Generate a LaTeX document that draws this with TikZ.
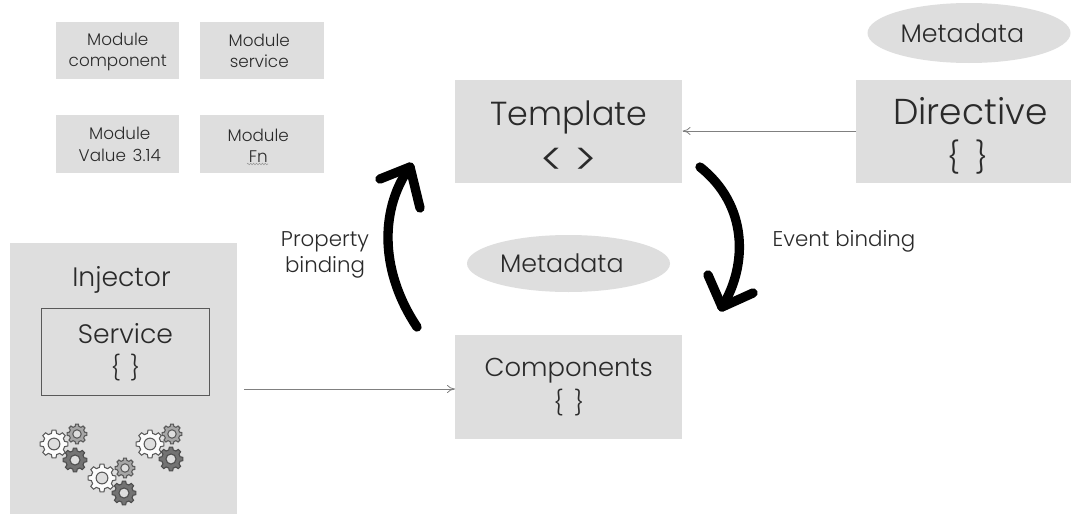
\documentclass[tikz,border=0pt]{standalone}
\usepackage{fontspec}
\setmainfont{Poppins Light}
\usetikzlibrary{arrows.meta,decorations.pathmorphing,calc,shapes.geometric}
\definecolor{boxgray}{HTML}{DEDEDE}
\definecolor{inkgray}{HTML}{2A2A2A}
\newcommand{\fs}[2]{\fontsize{#1}{#2}\selectfont}
\newcommand{\lift}[1]{\rule{0pt}{#1}}
\tikzset{
  x=0.75pt,y=-0.75pt,
  graybox/.style={fill=boxgray,draw=none,inner sep=0pt,align=center,text=inkgray,anchor=north west},
  grayoval/.style={fill=boxgray,draw=none,ellipse,inner sep=0pt,text=inkgray},
  label/.style={text=inkgray,align=center,inner sep=0pt},
  thinarrow/.style={draw=black!50,line width=0.6pt,-{To[length=6pt,width=6pt]}},
  bigcurve/.style={line width=7pt,line cap=round,line join=round,draw=black},
  gearlight/.style={fill=white!90!boxgray,draw=black!65,line width=0.8pt},
  gearmid/.style={fill=black!35,draw=black!65,line width=0.8pt},
  geardark/.style={fill=black!55,draw=black!70,line width=0.8pt},
}
\newcommand{\gear}[5]{% cx, cy, r outer, style, hole fill
  \draw[#4] (#1,#2) ++(-14:#3*0.78*0.75pt)
    \foreach \a in {0,45,...,315} {
      -- ($(#1,#2)+(\a-14:#3*0.78*0.75pt)$)
      -- ($(#1,#2)+(\a-8:#3*0.75pt)$)
      -- ($(#1,#2)+(\a+8:#3*0.75pt)$)
      -- ($(#1,#2)+(\a+14:#3*0.78*0.75pt)$)
    } -- cycle;
  \draw[#4,fill=#5] (#1,#2) circle[radius=#3*0.42*0.75pt];
}
\begin{document}
\begin{tikzpicture}
\useasboundingbox (0,0) rectangle (1071,514);
\fill[white] (0,0) rectangle (1071,514);

% module boxes
\node[graybox,minimum width=92.25pt,minimum height=42.75pt,font=\fs{12.6}{16}] (mc) at (56,22) {\lift{11pt}Module\\component};
\node[graybox,minimum width=93pt,minimum height=42.75pt,font=\fs{12.6}{16}] (ms) at (200,22) {Module\hspace*{4.5pt}\\service\hspace*{4.5pt}};
\node[graybox,minimum width=92.25pt,minimum height=43.5pt,font=\fs{12.6}{16}] (mv) at (56,115) {\hspace*{3pt}Module\\\hspace*{3pt}Value\hspace*{5pt}3.14};
\node[graybox,minimum width=93pt,minimum height=43.5pt,font=\fs{12.6}{16}] (mf) at (200,115) {\lift{11.5pt}Module\hspace*{6pt}\\Fn\hspace*{6pt}};
\coordinate (wa) at (247,164);
\coordinate (wb) at (268,164);
\draw[black!40,line width=0.4pt,decorate,decoration={zigzag,amplitude=0.6pt,segment length=2.2pt}] (wa) -- (wb);

% main boxes
\node[graybox,minimum width=170.25pt,minimum height=77.25pt,font=\fs{25}{34}] (tpl) at (455,80) {\lift{27.5pt}Template\\\raisebox{-3.5pt}{\fs{34}{34}<\hspace*{8pt}>}};
\node[graybox,minimum width=161.25pt,minimum height=77.25pt,font=\fs{27}{33}] (dir) at (856,80) {\hspace*{10pt}\lift{27pt}Directive\\\hspace*{6pt}{\fs{23}{33}\{\hspace*{12pt}\}}};
\node[graybox,minimum width=170.25pt,minimum height=78pt,font=\fs{19.4}{26}] (cmp) at (455,335) {Components\\{\fs{18}{26}\{\hspace*{8pt}\}}};
\node[grayoval,minimum width=152.25pt,minimum height=42.75pt,font=\fs{19}{22}] (md1) at (568.5,263.5) {Metadata\hspace*{10pt}};
\node[grayoval,minimum width=152.25pt,minimum height=45pt,font=\fs{19}{22}] (md2) at (969,33) {Metadata\hspace*{10pt}};

% injector
\node[graybox,minimum width=170.25pt,minimum height=203.25pt] (inj) at (10,243) {};
\node[label,font=\fs{20}{22}] (injl) at (121.5,280) {Injector};
\node[graybox,fill=none,draw=black!65,line width=0.7pt,minimum width=126pt,minimum height=65.25pt,font=\fs{20}{25}] (svc) at (41,308) {Service\\{\fs{18}{25}\{\hspace*{7pt}\}}};

% gears
\gear{54}{444}{14}{gearlight}{boxgray}
\gear{77}{434}{10}{gearmid}{boxgray}
\gear{75}{460}{12}{geardark}{boxgray}
\gear{150}{444}{14}{gearlight}{boxgray}
\gear{172}{434}{10}{gearmid}{boxgray}
\gear{171}{459}{12}{geardark}{boxgray}
\gear{102}{478}{14}{gearlight}{boxgray}
\gear{125}{468}{10}{gearmid}{boxgray}
\gear{124}{493}{12}{geardark}{boxgray}

% thin connectors
\draw[thinarrow] (dir.west |- 0,131) -- (tpl.east |- 0,131);
\draw[thinarrow,shorten <=5pt] (inj.east |- 0,389) -- (cmp.west |- 0,389);

% binding arrows
\coordinate (la) at (417,327);
\coordinate (lb) at (410,167);
\coordinate (la1) at (377,267);
\coordinate (lb1) at (382,205);
\coordinate (lh1) at (380,179);
\coordinate (lh2) at (420,208);
\draw[bigcurve] (la) .. controls (la1) and (lb1) .. (lb);
\draw[bigcurve] (lh1) -- (lb) -- (lh2);
\coordinate (ra) at (700,167);
\coordinate (rb) at (722,307);
\coordinate (ra1) at (748,205);
\coordinate (rb1) at (748,265);
\coordinate (rh1) at (708,275);
\coordinate (rh2) at (753,293);
\draw[bigcurve] (ra) .. controls (ra1) and (rb1) .. (rb);
\draw[bigcurve] (rh1) -- (rb) -- (rh2);

% labels
\node[label,font=\fs{16}{19.5}] (pb) at (325,255) {Property\\binding};
\node[label,font=\fs{16}{19.5}] (eb) at (844,241) {Event binding};
\end{tikzpicture}
\end{document}
